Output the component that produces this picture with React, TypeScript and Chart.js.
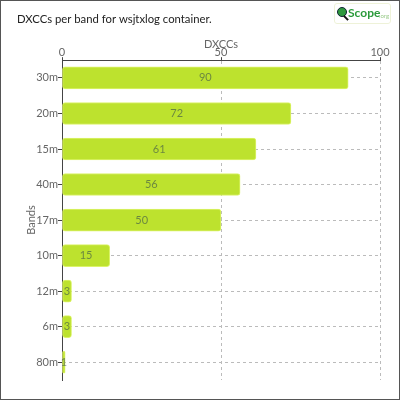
import React, { useEffect, useRef } from "react";
import { Chart, registerables } from "chart.js";

Chart.register(...registerables);

const bands = ["30m", "20m", "15m", "40m", "17m", "10m", "12m", "6m", "80m"];
const dxccs = [90, 72, 61, 56, 50, 15, 3, 3, 1];
const xMin = 0;
const xMax = 100;
const xStep = 50;

const FONT = "Lato, 'Open Sans', sans-serif";

const barLabelPlugin = {
  id: "barLabels",
  afterDatasetsDraw(chart: any) {
    const ctx = chart.ctx;
    const meta = chart.getDatasetMeta(0);
    ctx.save();
    ctx.font = `11px ${FONT}`;
    ctx.fillStyle = "rgba(40,60,80,0.55)";
    ctx.textAlign = "center";
    ctx.textBaseline = "middle";
    meta.data.forEach((bar: any, i: number) => {
      const p = bar.getProps(["x", "base", "y"], true);
      ctx.fillText(String(dxccs[i]), (p.x + p.base) / 2, p.y);
    });
    ctx.restore();
  },
};

export default function App() {
  const ref = useRef<HTMLCanvasElement | null>(null);

  useEffect(() => {
    document.body.style.margin = "0";
    const canvas = ref.current;
    if (!canvas) return;
    const chart = new Chart(canvas, {
      type: "bar",
      data: {
        labels: bands,
        datasets: [
          {
            label: "DXCCs",
            data: dxccs,
            backgroundColor: "#bde22e",
            borderColor: "#dcf36a",
            borderWidth: 1,
            borderRadius: 3,
            borderSkipped: false,
            barThickness: 22,
          },
        ],
      },
      options: {
        indexAxis: "y",
        animation: false,
        responsive: false,
        maintainAspectRatio: false,
        layout: { padding: { left: 17, right: 20, top: 0, bottom: 20 } },
        plugins: {
          legend: { display: false },
          tooltip: { enabled: false },
          title: {
            display: true,
            text: "DXCCs per band for wsjtxlog container.",
            align: "start",
            color: "#222",
            font: { family: FONT, size: 11.3, weight: "normal" },
            padding: { top: 13, bottom: 8 },
          },
        },
        scales: {
          x: {
            type: "linear",
            position: "top",
            min: xMin,
            max: xMax,
            ticks: {
              stepSize: xStep,
              color: "#666",
              font: { family: FONT, size: 11 },
              padding: -2,
            },
            grid: {
              color: "#bbb",
              tickLength: 3,
              tickColor: "#444",
            },
            border: { color: "#444", dash: [3, 3] },
            title: {
              display: true,
              text: "DXCCs",
              color: "#666",
              font: { family: FONT, size: 11 },
              padding: { top: 3, bottom: 0 },
            },
            afterFit: (scale: any) => {
              scale.height = 25.6;
            },
          },
          y: {
            type: "category",
            ticks: {
              color: "#666",
              font: { family: FONT, size: 11 },
              padding: 0,
            },
            grid: {
              offset: false,
              color: "#bbb",
              tickLength: 4,
              tickColor: "#444",
            },
            border: { color: "#444", dash: [3, 3] },
            title: {
              display: true,
              text: "Bands",
              color: "#666",
              font: { family: FONT, size: 11 },
              padding: { top: 8, bottom: 0 },
            },
            afterFit: (scale: any) => {
              scale.width = 45;
            },
          },
        },
      },
      plugins: [barLabelPlugin],
    });
    return () => chart.destroy();
  }, []);

  return (
    <div style={{ position: "fixed", left: 0, top: 0, width: 400, height: 400, background: "#fff" }}>
      <canvas ref={ref} width={400} height={400} style={{ display: "block", width: 400, height: 400 }} />
      <div
        style={{
          position: "absolute",
          left: 0,
          top: 0,
          width: 400,
          height: 400,
          boxSizing: "border-box",
          border: "1px solid #555",
          pointerEvents: "none",
        }}
      />
      <div
        style={{
          position: "absolute",
          left: 334,
          top: 3,
          width: 57,
          height: 21,
          boxSizing: "border-box",
          border: "1px solid #eef2d8",
          borderRadius: 3,
          fontFamily: FONT,
          overflow: "hidden",
        }}
      >
        <div
          style={{
            position: "absolute",
            left: 2,
            top: 3,
            width: 8,
            height: 8,
            borderRadius: "50%",
            background: "#2e9a3e",
            border: "1px solid #123",
          }}
        />
        <div
          style={{
            position: "absolute",
            left: 8,
            top: 13,
            width: 6,
            height: 2,
            background: "#111",
            transform: "rotate(45deg)",
          }}
        />
        <span
          style={{
            position: "absolute",
            left: 13,
            top: 1,
            color: "#2a9a3a",
            fontWeight: "bold",
            fontSize: 12,
            lineHeight: "15px",
            whiteSpace: "nowrap",
          }}
        >
          Scope
        </span>
        <span
          style={{
            position: "absolute",
            left: 44,
            top: 8,
            color: "#9acb8a",
            fontSize: 6,
            lineHeight: "7px",
            whiteSpace: "nowrap",
          }}
        >
          .org
        </span>
      </div>
    </div>
  );
}
